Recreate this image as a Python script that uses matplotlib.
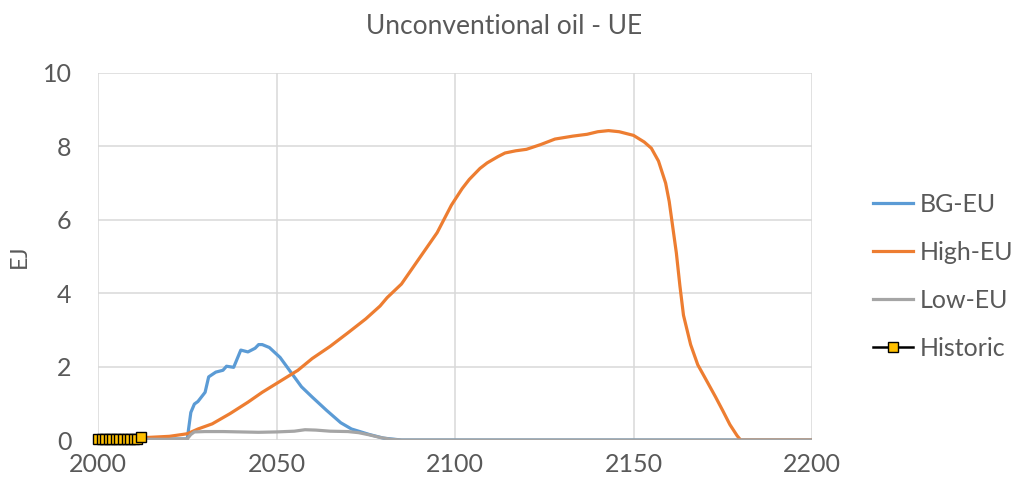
import matplotlib
matplotlib.use("Agg")
import matplotlib.pyplot as plt
import numpy as np

# Unconventional oil - UE, EJ per year for each scenario
bg_years = [2000, 2025, 2026, 2027, 2028, 2030, 2031, 2033, 2035, 2036, 2038, 2040,
            2042, 2044, 2045, 2046, 2048, 2051, 2054, 2057, 2060, 2064, 2068, 2071,
            2076, 2080, 2085, 2200]
bg_vals = [0.02, 0.03, 0.75, 0.98, 1.05, 1.30, 1.72, 1.85, 1.90, 2.01, 1.98, 2.45,
           2.40, 2.50, 2.60, 2.60, 2.52, 2.25, 1.85, 1.45, 1.17, 0.81, 0.47, 0.30,
           0.15, 0.05, 0.0, 0.0]

high_years = [2000, 2010, 2020, 2025, 2028, 2032, 2037, 2042, 2046, 2051, 2056, 2060,
              2065, 2070, 2075, 2079, 2081, 2085, 2090, 2095, 2099, 2102, 2104, 2107,
              2109, 2112, 2114, 2117, 2120, 2124, 2128, 2133, 2137, 2140, 2143, 2146,
              2150, 2153, 2155, 2157, 2159, 2160, 2161, 2162, 2163, 2164, 2165, 2166,
              2168, 2170, 2173, 2175, 2177, 2179, 2180, 2200]
high_vals = [0.02, 0.05, 0.10, 0.17, 0.30, 0.44, 0.72, 1.03, 1.30, 1.60, 1.90, 2.22,
             2.55, 2.92, 3.30, 3.65, 3.88, 4.25, 4.95, 5.65, 6.40, 6.85, 7.10, 7.40,
             7.55, 7.72, 7.82, 7.88, 7.92, 8.05, 8.20, 8.28, 8.33, 8.40, 8.43, 8.40,
             8.30, 8.12, 7.95, 7.60, 7.00, 6.50, 5.80, 5.10, 4.20, 3.40, 3.00, 2.60,
             2.05, 1.70, 1.17, 0.80, 0.42, 0.12, 0.0, 0.0]

low_years = [2000, 2010, 2020, 2025, 2026, 2027, 2030, 2035, 2040, 2045, 2050, 2055,
             2058, 2061, 2065, 2070, 2073, 2076, 2079, 2082, 2085, 2200]
low_vals = [0.02, 0.02, 0.02, 0.03, 0.15, 0.22, 0.23, 0.23, 0.22, 0.21, 0.22, 0.24,
            0.28, 0.27, 0.24, 0.23, 0.20, 0.14, 0.07, 0.02, 0.0, 0.0]

hist_years = list(range(2000, 2013))
hist_vals = [0.03, 0.03, 0.03, 0.03, 0.03, 0.03, 0.03, 0.03, 0.03, 0.03, 0.03, 0.04, 0.07]

labels = ["BG-EU", "High-EU", "Low-EU", "Historic"]
text_col = "#595959"
grid_col = "#d9d9d9"

plt.rcParams['font.family'] = ['Lato', 'DejaVu Sans']

fig = plt.figure(figsize=(10.15, 4.9), dpi=100)
ax = fig.add_axes([98 / 1015, 1 - 440 / 490, (812 - 98) / 1015, (440 - 73) / 490])

ax.plot(bg_years, bg_vals, color="#5b9bd5", lw=2.3, label=labels[0])
ax.plot(high_years, high_vals, color="#ed7d31", lw=2.3, label=labels[1])
ax.plot(low_years, low_vals, color="#a5a5a5", lw=2.3, label=labels[2])
ax.plot(hist_years, hist_vals, color="black", lw=1.8, marker="s", ms=7,
        mfc="#ffc000", mec="black", mew=1.0, label=labels[3], clip_on=False,
        zorder=5)

ax.set_xlim(2000, 2200)
ax.set_ylim(0, 10)
ax.set_xticks(np.arange(2000, 2201, 50))
ax.set_yticks(np.arange(0, 11, 2))
ax.grid(True, color=grid_col, lw=1.1)
ax.set_axisbelow(True)
for s in ax.spines.values():
    s.set_visible(False)
ax.tick_params(axis="both", length=0, labelsize=18, labelcolor=text_col)
ax.tick_params(axis="x", pad=9)
ax.tick_params(axis="y", pad=19)

ax.set_ylabel("EJ", fontsize=17, color=text_col, labelpad=9)
fig.text(0.497, 1 - 26 / 490, "Unconventional oil - UE", ha="center", va="center",
         fontsize=19, color=text_col)

ax.legend(loc="center left", bbox_to_anchor=(860 / 1015, 1 - 276 / 490),
          bbox_transform=fig.transFigure, frameon=False, fontsize=18,
          labelcolor=text_col, handlelength=1.6, handletextpad=0.3,
          labelspacing=1.0, borderpad=0)

fig.savefig("out.png", dpi=100)
